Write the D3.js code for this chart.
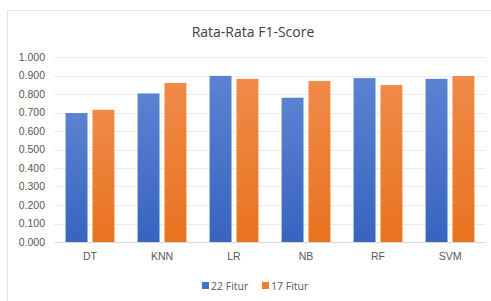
<!DOCTYPE html>
<html>
<head>
<meta charset="utf-8">
<script src="https://cdn.jsdelivr.net/npm/d3@7"></script>
<style>
  body { margin: 0; background: #fff; }
  svg { display: block; font-family: "Open Sans", "Liberation Sans", sans-serif; }
</style>
</head>
<body>
<div id="chart"></div>
<script>
// data
var models = ["DT", "KNN", "LR", "NB", "RF", "SVM"];
var fitur22 = [0.697, 0.803, 0.898, 0.780, 0.886, 0.882];
var fitur17 = [0.715, 0.860, 0.882, 0.870, 0.848, 0.897];
var seriesNames = ["22 Fitur", "17 Fitur"];
var yTicks = [0, 0.1, 0.2, 0.3, 0.4, 0.5, 0.6, 0.7, 0.8, 0.9, 1.0];

var width = 491;
var height = 301;
var margin = { top: 57, right: 5, bottom: 59, left: 54 };

var svg = d3.select("#chart")
  .append("svg")
  .attr("width", width)
  .attr("height", height);

// bar gradients (lighter on top like the Office style)
var defs = svg.append("defs");
function addGrad(id, top, bottom) {
  var gr = defs.append("linearGradient")
    .attr("id", id).attr("x1", 0).attr("y1", 0).attr("x2", 0).attr("y2", 1);
  gr.append("stop").attr("offset", "0%").attr("stop-color", top);
  gr.append("stop").attr("offset", "100%").attr("stop-color", bottom);
}
addGrad("gBlue", "#5b82d2", "#3864c0");
addGrad("gOrange", "#f08a48", "#e9731f");
var fills = ["url(#gBlue)", "url(#gOrange)"];
var legendColors = ["#4472c4", "#ed7d31"];

// chart frame (picture is cropped at right and bottom)
svg.append("path")
  .attr("d", "M7.5,301 V10.5 H491")
  .attr("fill", "none")
  .attr("stroke", "#e3e3e3")
  .attr("stroke-width", 1);

var x = d3.scaleBand()
  .domain(models)
  .range([margin.left, width - margin.right])
  .paddingInner(0)
  .paddingOuter(0);

var x1 = d3.scaleBand()
  .domain(seriesNames)
  .range([0, x.bandwidth()])
  .paddingInner(0.185)
  .paddingOuter(0.43);

var y = d3.scaleLinear()
  .domain([0, 1])
  .range([height - margin.bottom, margin.top]);

// gridlines
svg.append("g")
  .selectAll("line")
  .data(yTicks)
  .enter()
  .append("line")
  .attr("x1", margin.left)
  .attr("x2", width - margin.right)
  .attr("y1", function(d) { return Math.round(y(d)) + 0.5; })
  .attr("y2", function(d) { return Math.round(y(d)) + 0.5; })
  .attr("stroke", function(d) { return d === 0 ? "#d9d9d9" : "#ececec"; })
  .attr("stroke-width", 1);

// y axis labels
var yAxis = d3.axisLeft(y)
  .tickValues(yTicks)
  .tickFormat(d3.format(".3f"))
  .tickSize(0)
  .tickPadding(9);

var gy = svg.append("g")
  .attr("transform", "translate(" + margin.left + ",0)")
  .call(yAxis);
gy.select(".domain").remove();
gy.selectAll("text")
  .attr("fill", "#595959")
  .style("font-size", "10.5px");

// x axis labels
var xAxis = d3.axisBottom(x).tickSize(0).tickPadding(11);
var gx = svg.append("g")
  .attr("transform", "translate(0," + (height - margin.bottom) + ")")
  .call(xAxis);
gx.select(".domain").remove();
gx.selectAll("text")
  .attr("fill", "#595959")
  .style("font-size", "10.5px");

// bars
var rows = models.map(function(m, i) {
  return { model: m, vals: [fitur22[i], fitur17[i]] };
});

var groups = svg.append("g")
  .selectAll("g")
  .data(rows)
  .enter()
  .append("g")
  .attr("transform", function(d) { return "translate(" + x(d.model) + ",0)"; });

groups.selectAll("rect")
  .data(function(d) {
    return d.vals.map(function(v, j) { return { key: seriesNames[j], value: v, j: j }; });
  })
  .enter()
  .append("rect")
  .attr("x", function(d) { return x1(d.key); })
  .attr("width", x1.bandwidth())
  .attr("y", function(d) { return y(d.value); })
  .attr("height", function(d) { return y(0) - y(d.value); })
  .attr("fill", function(d) { return fills[d.j]; });

// title
svg.append("text")
  .attr("x", 253)
  .attr("y", 37)
  .attr("text-anchor", "middle")
  .attr("fill", "#404040")
  .style("font-size", "14px")
  .text("Rata-Rata F1-Score");

// legend
var legendX = [202, 262];
var legend = svg.append("g")
  .selectAll("g")
  .data(seriesNames)
  .enter()
  .append("g")
  .attr("transform", function(d, i) { return "translate(" + legendX[i] + ",282)"; });

legend.append("rect")
  .attr("width", 7)
  .attr("height", 7)
  .attr("fill", function(d, i) { return legendColors[i]; });

legend.append("text")
  .attr("x", 9)
  .attr("y", 7.5)
  .attr("fill", "#595959")
  .style("font-size", "10.5px")
  .text(function(d) { return d; });
</script>
</body>
</html>
